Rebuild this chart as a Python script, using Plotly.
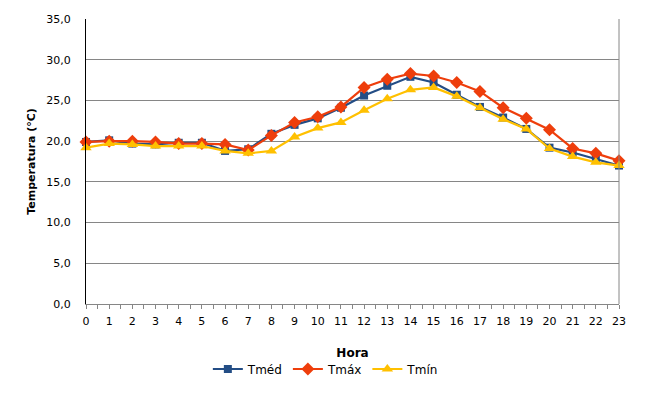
import plotly.graph_objects as go

horas = list(range(24))
tmed = [19.9, 20.1, 19.7, 19.6, 19.8, 19.8, 18.8, 19.0, 20.9, 22.0, 22.8, 24.1,
        25.6, 26.8, 27.9, 27.2, 25.7, 24.2, 22.9, 21.5, 19.2, 18.6, 17.8, 17.0]
tmax = [19.9, 20.0, 20.0, 19.9, 19.7, 19.7, 19.6, 18.9, 20.7, 22.3, 23.0, 24.2,
        26.6, 27.6, 28.3, 28.0, 27.2, 26.1, 24.1, 22.8, 21.4, 19.1, 18.5, 17.6]
tmin = [19.2, 19.7, 19.6, 19.4, 19.4, 19.4, 18.8, 18.5, 18.8, 20.5, 21.6, 22.3,
        23.8, 25.2, 26.3, 26.6, 25.5, 24.1, 22.7, 21.5, 19.1, 18.1, 17.4, 17.0]
y_ticks = [0, 5, 10, 15, 20, 25, 30, 35]

FONT = "DejaVu Sans"
fig = go.Figure()
fig.add_trace(go.Scatter(x=horas, y=tmed, name="Tméd", mode="lines+markers",
                         line=dict(color="#234D85", width=2.2),
                         marker=dict(symbol="square", size=8, color="#234D85"),
                         cliponaxis=False))
fig.add_trace(go.Scatter(x=horas, y=tmax, name="Tmáx", mode="lines+markers",
                         line=dict(color="#EE3E0C", width=2.2),
                         marker=dict(symbol="diamond", size=10, color="#EE3E0C"),
                         cliponaxis=False))
fig.add_trace(go.Scatter(x=horas, y=tmin, name="Tmín", mode="lines+markers",
                         line=dict(color="#FFC000", width=2.2),
                         marker=dict(symbol="triangle-up", size=10, color="#FFC000"),
                         cliponaxis=False))

fig.add_shape(type="line", xref="paper", yref="paper", x0=1, x1=1, y0=0, y1=1,
              line=dict(color="#868686", width=1))

fig.update_layout(
    width=667, height=400,
    margin=dict(l=78, r=56, t=11, b=104),
    paper_bgcolor="white", plot_bgcolor="white",
    separators=",.",
    font=dict(family=FONT, size=11, color="black"),
    showlegend=True,
    legend=dict(orientation="h", x=0.45, xanchor="center", y=-0.228, yanchor="middle",
                font=dict(family=FONT, size=12), itemwidth=30, tracegroupgap=0),
    xaxis=dict(
        range=[0, 23], tickmode="array", tickvals=horas, ticktext=[str(h) for h in horas],
        showgrid=False, zeroline=False, showline=True, linecolor="#868686", linewidth=1,
        ticks="outside", ticklen=4, tickcolor="#868686", ticklabelstandoff=3,
        minor=dict(dtick=0.5, tick0=0, ticks="outside", ticklen=4, tickcolor="#868686", showgrid=False),
        tickfont=dict(family=FONT, size=11), automargin=False,
        title=dict(text="<b>Hora</b>", font=dict(family=FONT, size=12), standoff=21),
    ),
    yaxis=dict(
        range=[0, 35], tickmode="array", tickvals=y_ticks, tickformat=".1f",
        showgrid=True, gridcolor="#868686", gridwidth=1, zeroline=False,
        showline=True, linecolor="black", linewidth=1, ticks="", ticklabelstandoff=12,
        tickfont=dict(family=FONT, size=11), automargin=False,
        title=dict(text="<b>Temperatura (°C)</b>", font=dict(family=FONT, size=11), standoff=8),
    ),
)

fig.write_html("out.html")
